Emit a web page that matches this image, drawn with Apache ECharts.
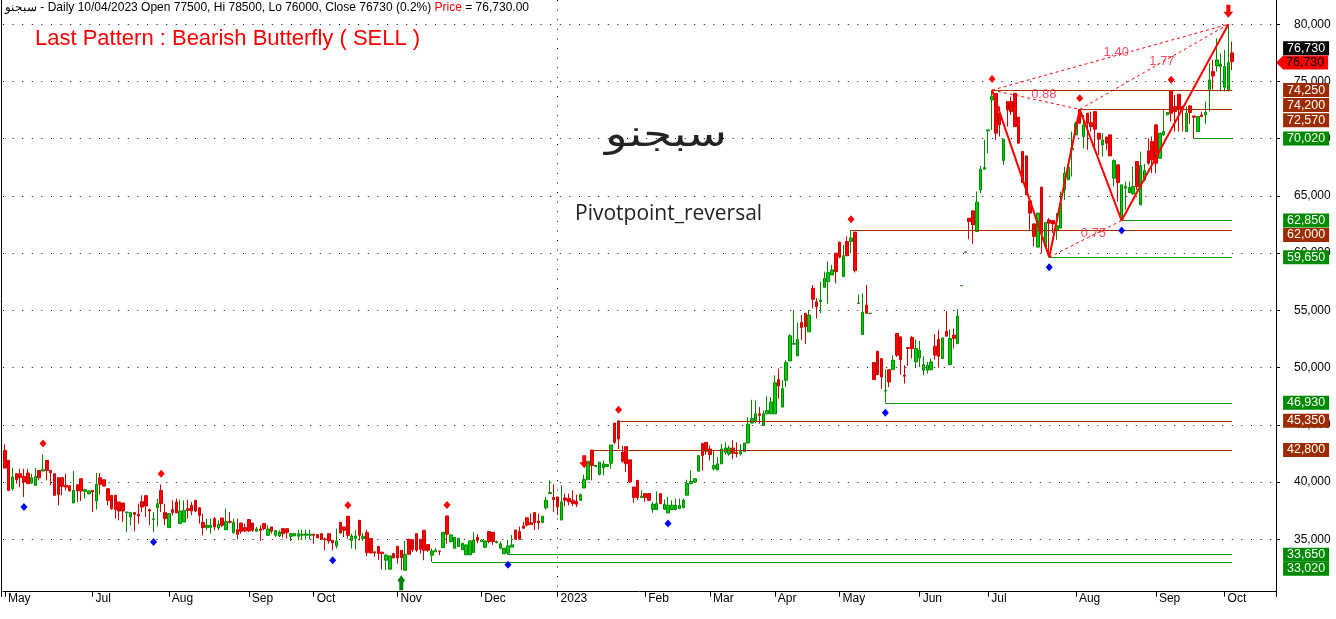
<!DOCTYPE html>
<html><head><meta charset="utf-8">
<script src="https://cdn.jsdelivr.net/npm/echarts@6/dist/echarts.min.js"></script>
<style>html,body{margin:0;padding:0;background:#fff}#c{width:1336px;height:619px}</style>
</head><body><div id="c"></div>
<script>
// ---------------- DATA ----------------
const opens = [
42760,41890,39420,40730,40730,40490,40790,39910,39710,41020,
40960,41890,41020,40730,40380,40380,39710,39680,38170,39770,
40290,39190,38980,39270,38340,40380,40200,39420,38840,38840,
38260,38170,37330,36950,37330,37180,38290,38810,37590,36720,
37760,39270,37330,36020,37590,38260,36370,36510,37670,37970,
38400,37760,36480,36020,36020,36800,35990,36860,35840,36540,
35580,35840,36420,36020,36720,36420,35700,35900,36370,35350,
36080,35350,35290,35930,35930,35260,35290,35260,35350,35350,
35350,35440,35410,35490,35030,35490,34910,34420,36480,36080,
37010,34910,35060,36660,35060,35580,35060,33900,34390,33870,
33170,32380,33750,34390,34040,32300,35000,34970,35490,35000,
35790,34540,33610,33900,33980,34270,37040,34800,34220,34370,
34080,33640,33640,33850,35170,34800,34310,35670,35610,34710,
34220,33730,33790,34310,35810,35670,36160,36880,36450,37340,
36590,36450,37750,38990,38640,38700,36680,38610,38560,38410,
38320,38410,39480,40200,42800,41360,40670,41240,41360,41650,
45150,45350,42600,43090,41940,39570,40150,38640,38990,38990,
37600,37600,38990,37630,37310,37600,37600,37690,37750,38850,
39860,40000,40950,43380,43470,42890,41160,41070,41590,42600,
42460,42980,42600,42460,42660,43410,45150,45380,45960,44940,
45960,45960,45960,48950,46550,48890,50580,52050,51020,53950,
54740,53130,56930,55760,55760,57020,57510,58100,60000,60970,
57950,61020,61020,61840,55610,52890,55470,54740,50440,51430,
50790,47950,49820,49820,52980,52690,49330,51750,52630,50500,
50850,49770,49770,49820,51870,52460,50790,53190,50260,52840,
52100,57160,60090,63060,63700,61890,65530,67340,70690,73390,
73970,72230,68090,73250,73250,73970,71880,68880,68500,64570,
62560,60530,65770,60580,62910,62850,62040,62190,65530,66410,
69030,70340,72520,70190,72230,71410,72370,70480,69460,70130,
70340,66550,67720,62910,65680,65300,65180,68010,64220,66410,
68940,69750,71210,68300,70340,72080,74200,72810,73890,72810,
70630,72870,71990,70630,72080,72080,74320,75870,76360,76300,
74500,74270,77500];
const highs = [
43290,41890,41220,40730,41160,41160,41160,40730,41220,41020,
42410,41890,41020,40730,40380,40380,40730,39680,40960,39770,
40290,39420,39270,39270,40790,40790,40200,39420,38840,38840,
38260,38170,37380,37330,37330,38110,38840,38810,37670,37380,
38550,39770,38110,37240,38400,38550,38460,38400,38460,38260,
38400,37760,37240,36800,36800,36950,36660,36860,37670,37380,
36800,36800,36420,36370,36720,36420,36080,36220,36370,36220,
36080,35790,35790,35930,35930,35550,35490,35840,35840,35840,
35840,35440,35410,35490,35150,35490,34910,35930,36480,36080,
37010,35490,35790,36660,35550,35840,35060,33950,34390,33920,
33750,33550,33750,34390,34040,34860,35000,34970,35490,35000,
35790,34540,34190,34270,33980,35610,37040,35460,35150,35090,
34710,34510,34860,35610,35460,35000,34860,35670,35610,34890,
34800,34220,34940,35380,35810,36100,36530,36880,37260,37340,
37260,37020,38700,40150,39800,38700,39710,38990,38990,39280,
38900,38990,40640,41820,42800,41450,41740,41880,41530,43240,
45150,45350,43180,43090,41940,39570,40150,39280,38990,38990,
38270,39190,38990,38470,38700,38410,38560,38560,38560,40200,
41010,40290,42310,43380,43470,43180,42750,42170,43320,43470,
43180,43670,43470,43320,43410,45640,47190,47130,46550,46260,
47490,47430,49330,49910,48890,50640,52920,55030,53920,54590,
54740,55030,57220,56050,57510,58390,59270,58980,60000,60970,
60730,61460,62000,61840,56400,56490,57220,54740,50440,51430,
50790,49850,49820,51080,52980,52690,50200,51810,52750,52460,
52340,50990,50500,50790,52920,53270,52600,54940,53330,53420,
55120,57160,60090,63060,63700,65390,67630,69900,70770,74250,
73970,72810,69960,73250,73680,73970,71880,68880,68500,64570,
62560,63500,65770,62680,63060,62850,63500,65390,67570,68210,
70630,71500,72570,72080,72230,72370,72370,70480,70480,70190,
70340,68210,67720,65970,66260,66260,67570,68010,68880,67800,
70040,70190,71300,70480,72520,72290,74200,73830,73890,72870,
72810,72960,72000,71940,72370,73250,76590,76890,78780,77470,
77760,80000,78500];
const lows = [
41220,39210,39270,39860,39560,38690,39860,39860,39710,40150,
40960,40150,39710,38840,37970,38840,39270,39220,38170,38260,
38340,38550,38920,37380,37590,38920,39650,37970,37590,36800,
36660,36510,35640,36220,35700,36370,37380,36950,36220,35640,
36130,37380,36220,36020,37090,37300,36370,36510,36800,37090,
37380,36370,35350,35790,35490,35790,35790,36080,35790,36370,
35490,35000,35490,35640,35640,35640,35640,34860,35790,35290,
35490,35200,35200,35150,35060,34860,35290,34910,34970,34970,
35000,34620,35120,35000,34040,34620,34040,34190,35490,35200,
35060,34190,34100,34910,34860,33550,33750,33460,33170,32360,
32300,32380,33370,32880,32300,32300,33690,33900,33900,33750,
33170,33900,33020,33900,33610,34270,34620,34710,34220,34370,
34080,33640,33640,33850,34650,34800,34220,34650,34510,34650,
34130,33730,33650,34310,34940,35000,35960,36100,36240,35810,
35870,36450,37600,38990,37400,37110,36680,37890,37980,37890,
37830,38350,39480,40200,40150,41360,40580,40580,41360,41160,
43320,42890,41680,40870,40000,38180,38410,38640,38270,38350,
37310,37540,38060,37540,37260,37540,37540,37630,37750,38850,
39860,40000,40950,41010,42400,41880,41010,41010,41590,42400,
42310,42000,42170,42310,42660,43410,45150,45150,45090,44940,
45960,45960,45960,47280,46550,48300,50580,52050,51020,52400,
52050,53130,55180,54300,54740,57020,55610,58100,57370,59560,
57950,59770,60000,58300,55610,52890,54740,54740,48950,49390,
48160,46930,48300,49820,50940,49390,48600,50150,50790,50060,
50060,49330,49470,49770,50700,50000,50790,52750,50260,51670,
52100,57160,60090,61220,60790,61890,65240,67340,68730,70770,
69900,70190,67720,71060,72080,71060,69610,66170,65100,62040,
60580,60530,60000,60580,59650,61750,61170,62190,64660,66410,
66700,70340,71350,69170,69030,70630,69170,68590,68440,69030,
68500,65820,64510,62850,63790,65240,65100,65530,64220,66260,
67720,66990,66990,68300,70250,72080,71500,70630,70630,70630,
70630,71300,70020,70630,71880,71300,72370,74320,75870,74120,
74120,74120,76000];
const closes = [
41220,39270,40440,40200,40380,40000,39860,40380,40490,40380,
41080,41020,40810,38840,38920,39620,39560,39220,39270,39220,
39220,39330,39220,39130,39800,39800,39650,38400,37670,37590,
37470,37470,37380,37330,37180,37040,37820,37910,37470,36800,
38110,38110,36800,37240,37330,37300,37470,37530,37530,37470,
37470,37090,36020,36220,36220,36080,36310,36220,36540,36480,
36480,35440,35700,35730,35730,35790,35900,35790,35930,35900,
35700,35760,35640,35490,35580,35490,35490,35490,35440,35470,
35440,35350,35120,35000,34970,34860,34680,34860,35550,35790,
35350,35290,35290,35350,35260,33840,33810,33810,33750,33750,
33610,33550,33370,33370,33400,33690,33690,34100,34040,34130,
34040,34040,33980,34040,33950,35610,35440,35380,35150,35090,
34650,34510,34860,34940,34890,34940,34860,34800,34800,34800,
34600,34220,34420,34510,35000,35000,35960,36240,36300,36450,
36450,37020,38410,39080,38470,37830,38270,38410,38270,38120,
38060,38900,40230,41820,41450,41450,41740,41590,41530,43240,
43470,43760,41820,41590,40000,38640,38640,38760,38640,38410,
38060,38120,38120,38060,37980,37980,37980,37950,38410,39860,
40060,40290,42310,42310,42690,42400,41450,41590,42890,42980,
42980,42520,42460,42660,43410,45060,45530,45960,45820,45960,
46260,46990,48680,48390,48160,50440,52780,52110,52460,53510,
53570,54590,55970,55320,55910,57810,58300,58540,58390,59650,
59770,59770,61320,58480,55640,54820,54740,54740,48950,49390,
49180,48010,48740,50640,51080,50700,49240,51670,51670,51670,
51520,50260,50200,50500,51080,50990,52600,52750,52540,52540,
54500,57160,60090,62770,62480,64460,67340,67480,70770,73680,
70480,71210,69960,72520,72370,71060,69610,66170,65100,63500,
61460,63500,61750,62680,62620,62560,62390,64370,66990,67510,
69170,71350,71350,71210,71350,71060,70830,69960,69900,69610,
68500,68090,66170,65970,65820,65740,65820,65820,67660,67220,
67860,68150,67860,70480,70630,72290,72230,72370,72520,72520,
72230,72290,71880,71940,71940,72290,75140,75490,76890,76540,
76300,76650,76730];

// month tick labels: [bar index, label]
const monthTicks = [[0,'May'],[23,'Jul'],[43,'Aug'],[64,'Sep'],[81,'Oct'],[103,'Nov'],[125,'Dec'],[145,'2023'],[168,'Feb'],[185,'Mar'],[202,'Apr'],[219,'May'],[240,'Jun'],[258,'Jul'],[281,'Aug'],[302,'Sep'],[320,'Oct']];
const yearSeparator = 145;

// pivot markers (bar indices)
const pivotHighIdx = [10,41,90,116,161,222,259,282,306];
const pivotLowIdx = [5,39,86,104,132,174,231,274,293];
const buyArrowIdx = [104];
const sellArrowIdx = [152,321];

// harmonic pattern X A B C D
const patternIdx = [259,274,282,293,321];
const patternVal = [74250,59650,72570,62850,80000];
const ratioPairs = [[0,2],[1,3],[0,4],[2,4]];
const ratioTexts = ['0.88','0.75','1.40','1.77'];

// support / resistance levels
const levelValues = [74250,74200,72570,70020,62850,62000,59650,46930,45350,42800,33650,33020];
const levelStart  = [259,306,282,312,293,222,274,231,161,154,132,112];
const levelKind   = ['r','r','r','s','s','r','s','s','r','r','s','s'];

// price tags on the right axis
const tagValues = [76730,76730,74250,74200,72570,70020,62850,62000,59650,46930,45350,42800,33650,33020];
const tagKind   = ['k','p','r','r','r','s','s','r','s','s','r','r','s','s'];
const tagShift  = [-13.4,0.8,0,14.4,11,0,0,4.6,0,0,0,0,0,6.7];

// ---------------- CHART ----------------
const N = opens.length;
const TOTAL = 334;
const last = N - 1;
const cats = Array.from({length: TOTAL}, (_, i) => String(i));
const monthMap = {};
monthTicks.forEach(([i, t]) => { monthMap[i] = t; });
const candles = opens.map((o, i) => [o, closes[i], Math.min(lows[i], o, closes[i]), Math.max(highs[i], o, closes[i])]);

const RED = '#ff0000', BROWN = '#a83000', GREEN = '#009a00';
const FONT = 'Liberation Sans, Arial, sans-serif';
const dotted = {color: '#000', type: [1, 8.6], width: 1};

const levelLines = levelValues.map((v, k) => [
  {coord: [levelStart[k], v], lineStyle: {color: levelKind[k] === 'r' ? BROWN : GREEN, width: 1, type: 'solid'}},
  {coord: [last, v]}
]);

const series = [];
series.push({
  type: 'candlestick', name: 'price', data: candles, barWidth: 3,
  itemStyle: {color: '#00cc00', color0: '#ff0000', borderColor: '#008a00', borderColor0: '#d00000', borderWidth: 1},
  markLine: {
    silent: true, symbol: 'none', animation: false, label: {show: false},
    data: levelLines.concat([[{coord: [yearSeparator, 82123], lineStyle: dotted}, {coord: [yearSeparator, 30000]}]])
  },
  z: 3
});

// dashed ratio lines
ratioPairs.forEach(([a, b]) => {
  series.push({
    type: 'line', data: [[patternIdx[a], patternVal[a]], [patternIdx[b], patternVal[b]]],
    symbol: 'none', lineStyle: {color: RED, width: 1, type: [3, 3]}, z: 4, silent: true
  });
});
// solid pattern
series.push({
  type: 'line', data: patternIdx.map((x, i) => [x, patternVal[i]]),
  symbol: 'none', lineStyle: {color: RED, width: 2}, z: 5, silent: true
});
// ratio labels
series.push({
  type: 'scatter', symbolSize: 0, z: 6, silent: true,
  data: ratioPairs.map(([a, b], k) => ({value: [(patternIdx[a] + patternIdx[b]) / 2, (patternVal[a] + patternVal[b]) / 2], name: ratioTexts[k]})),
  label: {show: true, position: 'inside', offset: [6, -5], formatter: p => p.name, color: '#ff1f3a', fontSize: 13, fontFamily: FONT}
});
// pivot diamonds
series.push({
  type: 'scatter', symbol: 'diamond', symbolSize: [7, 8], symbolOffset: [0, -11], z: 6, silent: true,
  itemStyle: {color: RED, opacity: 1}, data: pivotHighIdx.map(i => [i, highs[i]])
});
series.push({
  type: 'scatter', symbol: 'diamond', symbolSize: [7, 8], symbolOffset: [0, 10], z: 6, silent: true,
  itemStyle: {color: '#0000ff', opacity: 1}, data: pivotLowIdx.map(i => [i, lows[i]])
});
// arrows
series.push({
  type: 'scatter', symbol: 'path://M4,0 L8,6 L6,6 L6,15 L2,15 L2,6 L0,6 Z', symbolSize: [8, 15], symbolOffset: [0, 12.5],
  z: 7, silent: true, itemStyle: {color: '#008000', opacity: 1}, data: buyArrowIdx.map(i => [i, lows[i]])
});
series.push({
  type: 'scatter', symbol: 'path://M3,0 L7,0 L7,7 L10,7 L5,13 L0,7 L3,7 Z', symbolSize: [10, 13], symbolOffset: [0, -13],
  z: 7, silent: true, itemStyle: {color: RED, opacity: 1}, data: sellArrowIdx.map(i => [i, highs[i]])
});
// right-side price tags
const tagColor = {k: '#000000', p: '#ff0000', r: '#9c2c00', s: '#008a00'};
series.push({
  type: 'scatter', clip: false, z: 10, silent: true,
  data: tagValues.map((v, k) => {
    const isP = tagKind[k] === 'p';
    return {
      value: [TOTAL - 1, v],
      symbol: isP ? 'path://M0,7 L7,0 L52,0 L52,14 L7,14 Z' : 'rect',
      symbolSize: isP ? [52, 14] : [46, 14],
      symbolOffset: [isP ? 28 : 32, tagShift[k]],
      itemStyle: {color: tagColor[tagKind[k]], opacity: 1},
      label: {show: true, position: 'inside', offset: [isP ? 3 : 0, 0], color: isP ? '#000' : '#fff',
        fontSize: 12.5, fontFamily: FONT, formatter: () => v.toLocaleString('en-US')}
    };
  })
});

const option = {
  animation: false,
  backgroundColor: '#ffffff',
  grid: {left: 3, right: 60, top: 0, bottom: 22.5, show: false},
  xAxis: {
    type: 'category', data: cats, boundaryGap: true, offset: -4.8,
    axisLine: {show: true, lineStyle: {color: '#000', width: 1}},
    axisTick: {show: true, alignWithLabel: true, length: 5, interval: i => monthMap[i] !== undefined, lineStyle: {color: '#000'}},
    axisLabel: {show: true, interval: i => monthMap[i] !== undefined, formatter: (v, i) => monthMap[i] || '',
      align: 'left', padding: [0, 0, 0, 3], margin: 1, color: '#000', fontSize: 12, fontFamily: FONT},
    splitLine: {show: false}
  },
  yAxis: [{
    type: 'value', position: 'right', min: 30000, max: 82123, interval: 5000, scale: true,
    axisLine: {show: true, lineStyle: {color: '#000', width: 1}},
    axisTick: {show: true, length: 4, lineStyle: {color: '#000'}},
    axisLabel: {show: true, margin: 18, color: '#000', fontSize: 12, fontFamily: FONT, showMinLabel: false, showMaxLabel: false,
      formatter: v => (v % 5000 === 0 && v > 30000) ? v.toLocaleString('en-US') : ''},
    splitLine: {show: true, showMinLine: false, showMaxLine: false, lineStyle: dotted}
  }, {
    type: 'value', position: 'left', min: 30000, max: 82123, offset: 2,
    axisLine: {show: true, lineStyle: {color: '#000', width: 1}},
    axisTick: {show: false}, axisLabel: {show: false}, splitLine: {show: false}
  }],
  graphic: [
    {type: 'text', left: 5, top: 2, z: 20, silent: true, style: {
      text: '{a|سبجنو - Daily 10/04/2023 Open 77500, Hi 78500, Lo 76000, Close 76730 (0.2%) }{r|Price}{a| = 76,730.00}',
      rich: {a: {fill: '#000', font: '12px ' + FONT}, r: {fill: '#ff0000', font: '12px ' + FONT}}
    }},
    {type: 'text', left: 35, top: 28, z: 20, silent: true, style: {
      text: 'Last Pattern : Bearish Butterfly ( SELL )', fill: '#ff0000', font: '22px ' + FONT}},
    {type: 'text', x: 605, y: 119, scaleX: 1.3, z: 20, silent: true, style: {
      text: 'سبجنو', fill: '#222', font: '36px DejaVu Sans, sans-serif'}},
    {type: 'text', left: 575, top: 204, z: 20, silent: true, style: {
      text: 'Pivotpoint_reversal', fill: '#222', font: '21px Open Sans, sans-serif'}}
  ],
  series: series
};

const chart = echarts.init(document.getElementById('c'), null, {renderer: 'canvas'});
chart.setOption(option);
</script>
</body></html>
